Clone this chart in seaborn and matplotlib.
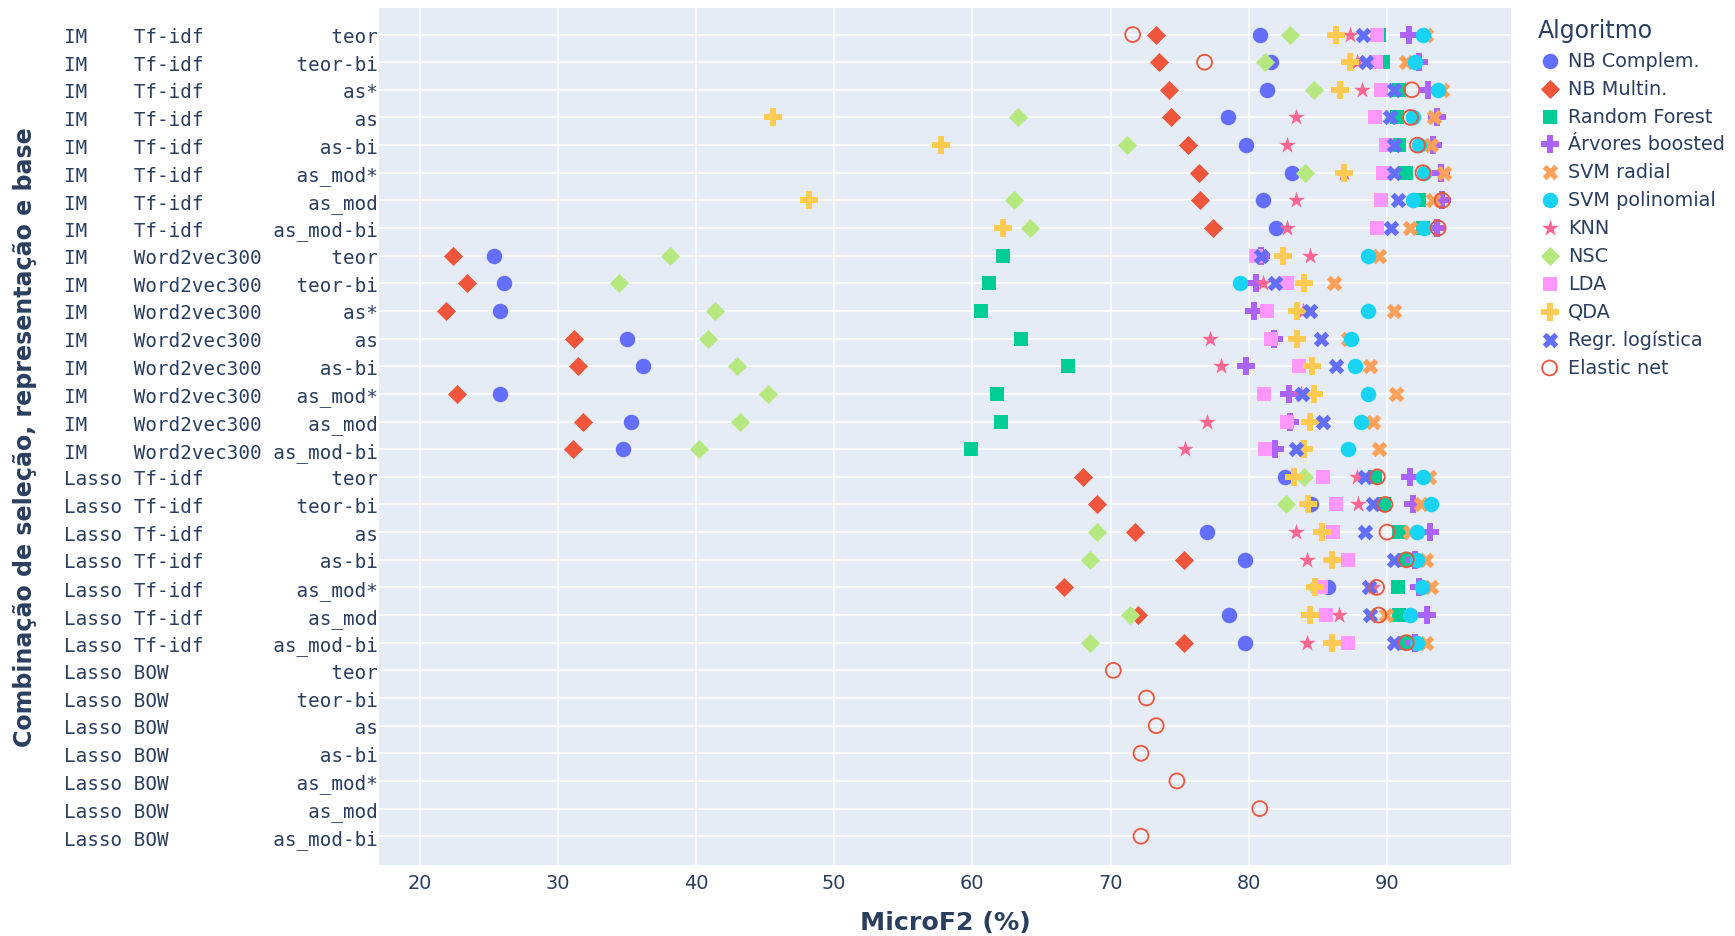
import matplotlib
matplotlib.use("Agg")
import matplotlib.pyplot as plt
import seaborn as sns
import numpy as np
import pandas as pd

N = None
selection = ["IM"] * 16 + ["Lasso"] * 14
representation = ["Tf-idf"] * 8 + ["Word2vec300"] * 8 + ["Tf-idf"] * 7 + ["BOW"] * 7
base8 = ["teor", "teor-bi", "as*", "as", "as-bi", "as_mod*", "as_mod", "as_mod-bi"]
base7 = ["teor", "teor-bi", "as", "as-bi", "as_mod*", "as_mod", "as_mod-bi"]
base = base8 + base8 + base7 + base7

nb_complem = [80.8, 81.6, 81.3, 78.5, 79.8, 83.1, 81.0, 82.0,
              25.4, 26.1, 25.8, 35.0, 36.2, 25.8, 35.3, 34.7,
              82.6, 84.5, 77.0, 79.7, 85.7, 78.6, 79.7,
              N, N, N, N, N, N, N]
nb_multin = [73.3, 73.5, 74.2, 74.4, 75.6, 76.4, 76.5, 77.4,
             22.4, 23.4, 21.9, 31.2, 31.5, 22.7, 31.8, 31.1,
             68.0, 69.0, 71.8, 75.3, 66.6, 72.0, 75.3,
             N, N, N, N, N, N, N]
random_forest = [89.4, 89.7, 90.9, 90.7, 90.9, 91.4, 92.3, 92.6,
                 62.2, 61.2, 60.6, 63.5, 66.9, 61.8, 62.1, 59.9,
                 89.1, 89.8, 90.9, 91.4, 90.8, 90.9, 91.4,
                 N, N, N, N, N, N, N]
arvores = [91.6, 92.3, 93.0, 93.65, 93.3, 93.9, 94.0, 93.65,
           80.9, 80.55, 80.4, 81.8, 79.8, 82.9, 83.0, 81.9,
           91.7, 91.85, 93.1, 92.0, 92.3, 92.9, 92.0,
           N, N, N, N, N, N, N]
svm_radial = [92.8, 91.4, 94.0, 93.4, 93.2, 94.1, 93.3, 91.7,
              89.4, 86.2, 90.5, 87.2, 88.8, 90.65, 89.0, 89.4,
              93.05, 92.45, 91.7, 92.8, 93.2, 89.9, 92.8,
              N, N, N, N, N, N, N]
svm_poli = [92.6, 92.0, 93.7, 91.85, 92.3, 92.7, 91.9, 92.7,
            88.6, 79.4, 88.65, 87.4, 87.7, 88.6, 88.1, 87.2,
            92.6, 93.2, 92.2, 92.2, 92.5, 91.7, 92.2,
            N, N, N, N, N, N, N]
knn = [87.3, 87.8, 88.2, 83.4, 82.8, 86.9, 83.4, 82.8,
       84.4, 81.0, 83.9, 77.2, 78.0, 83.8, 77.0, 75.4,
       87.8, 87.9, 83.4, 84.2, 89.0, 86.5, 84.2,
       N, N, N, N, N, N, N]
nsc = [83.0, 81.2, 84.7, 63.3, 71.2, 84.1, 63.0, 64.2,
       38.1, 34.4, 41.4, 40.9, 43.0, 45.2, 43.2, 40.2,
       84.0, 82.7, 69.0, 68.5, 84.8, 71.4, 68.5,
       N, N, N, N, N, N, N]
lda = [89.3, 89.2, 89.6, 89.1, 89.9, 89.7, 89.6, 89.3,
       80.55, 82.8, 81.3, 81.6, 83.6, 81.1, 82.8, 81.15,
       85.4, 86.3, 86.1, 87.2, 85.2, 85.6, 87.2,
       N, N, N, N, N, N, N]
qda = [86.3, 87.3, 86.6, 45.6, 57.7, 86.9, 48.2, 62.2,
       82.5, 84.0, 83.5, 83.5, 84.6, 84.7, 84.4, 84.0,
       83.3, 84.3, 85.3, 86.0, 84.8, 84.4, 86.0,
       N, N, N, N, N, N, N]
regr_log = [88.3, 88.5, 90.5, 90.2, 90.5, 90.5, 90.8, 90.3,
            80.9, 81.9, 84.4, 85.2, 86.3, 83.85, 85.4, 83.4,
            88.4, 89.0, 88.4, 90.5, 88.7, 88.8, 90.5,
            N, N, N, N, N, N, N]
elastic_net = [71.6, 76.8, 91.8, 91.7, 92.2, 92.6, 94.0, 93.7,
               N, N, N, N, N, N, N, N,
               89.3, 89.85, 90.0, 91.4, 89.25, 89.4, 91.4,
               70.2, 72.6, 73.3, 72.2, 74.8, 80.8, 72.2]

algorithms = ["NB Complem.", "NB Multin.", "Random Forest", "Árvores boosted",
              "SVM radial", "SVM polinomial", "KNN", "NSC", "LDA", "QDA",
              "Regr. logística", "Elastic net"]
values = [nb_complem, nb_multin, random_forest, arvores, svm_radial, svm_poli,
          knn, nsc, lda, qda, regr_log, elastic_net]
colors = ["#636EFA", "#EF553B", "#00CC96", "#AB63FA", "#FFA15A", "#19D3F3",
          "#FF6692", "#B6E880", "#FF97FF", "#FECB52", "#636EFA", "#EF553B"]
markers = ["o", "D", "s", "P", "X", "o", "*", "D", "s", "P", "X", "o"]
sizes = [125, 95, 115, 150, 125, 125, 160, 95, 115, 150, 125, 115]

labels = [f"{s:<6}{r:<12}{b:>9}" for s, r, b in zip(selection, representation, base)]
pos = {lab: i for i, lab in enumerate(labels)}

rows = []
for alg, vals in zip(algorithms, values):
    for lab, v in zip(labels, vals):
        if v is not None:
            rows.append({"Algoritmo": alg, "label": lab, "pos": pos[lab], "MicroF2": v})
df = pd.DataFrame(rows)

sns.set_theme(style="white")
plt.rcParams["font.family"] = ["DejaVu Sans"]
txt = "#2a3f5f"

fig = plt.figure(figsize=(17.35, 9.37), dpi=100)
ax = fig.add_axes([0.2187, 0.0758, 0.6524, 0.9146])
ax.set_facecolor("#E5ECF6")

for alg, col, mk, sz in zip(algorithms, colors, markers, sizes):
    sub = df[df["Algoritmo"] == alg]
    sns.scatterplot(data=sub, x="MicroF2", y="pos", color=col, marker=mk, s=sz,
                    linewidth=0, label=alg, ax=ax, zorder=3)
    if alg == "Elastic net":
        coll = ax.collections[-1]
        coll.set_facecolor("none")
        coll.set_edgecolor(col)
        coll.set_linewidth(1.3)

ax.set_xlim(17.1, 99.0)
ax.set_ylim(len(labels) - 1 + 1.04, -0.96)
ax.set_xticks([20, 30, 40, 50, 60, 70, 80, 90])
ax.set_yticks(range(len(labels)))
ax.set_yticklabels(labels, fontfamily="DejaVu Sans Mono", fontsize=13.9, color=txt)
for t in ax.get_xticklabels():
    t.set_fontsize(13.9)
    t.set_color(txt)
ax.tick_params(axis="both", length=0)
ax.tick_params(axis="x", pad=5.5)
ax.tick_params(axis="y", pad=1)
ax.grid(True, color="white", linewidth=1.1)
ax.set_axisbelow(True)
for sp in ax.spines.values():
    sp.set_visible(False)

ax.set_xlabel("MicroF2 (%)", fontsize=18.2, fontweight="bold", color=txt)
ax.xaxis.label.set_va("center")
ax.xaxis.set_label_coords(0.5, -0.0665)
ax.set_ylabel("Combinação de seleção, representação e base", fontsize=17.1,
              fontweight="bold", color=txt)
ax.yaxis.label.set_va("center")
ax.yaxis.set_label_coords(-0.313, 0.5)

leg = ax.legend(title="Algoritmo", loc="upper left", bbox_to_anchor=(0.882, 0.988),
                bbox_transform=fig.transFigure, frameon=False, fontsize=13.9,
                title_fontsize=17, alignment="left", labelspacing=0.46,
                handletextpad=0.35, borderaxespad=0, handlelength=1.2)
for t in leg.get_texts():
    t.set_color(txt)
leg.get_title().set_color(txt)

fig.savefig("out.png", dpi=100)
